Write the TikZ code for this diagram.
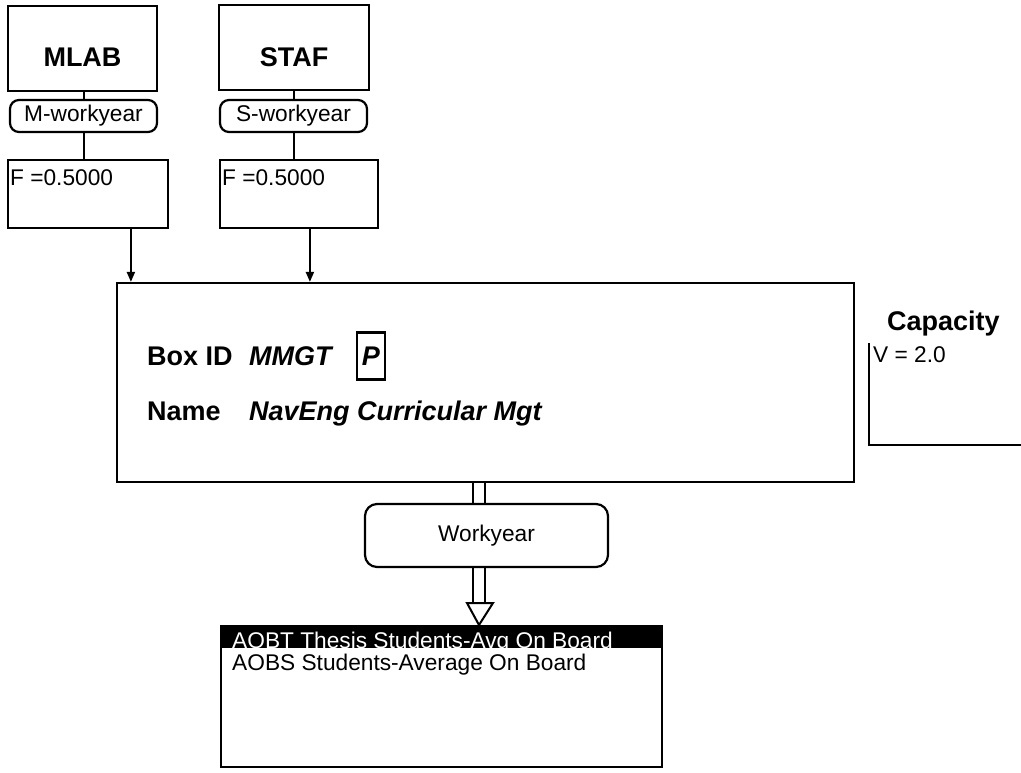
\documentclass[tikz,border=0pt]{standalone}
\usepackage{fontspec}
\setmainfont{Liberation Sans}
\usetikzlibrary{arrows.meta,calc}
\begin{document}
\begin{tikzpicture}[x=1pt,y=-1pt,
  box/.style={draw,line width=2.2pt,inner sep=0pt},
  pill/.style={draw,line width=2.2pt,rounded corners=9pt,inner sep=0pt},
  conn/.style={line width=2pt},
  arr/.style={line width=2pt,-{Triangle[width=8pt,length=10pt]}},
  bigtxt/.style={font=\fontsize{27}{31}\selectfont\bfseries,inner sep=0pt},
  bigit/.style={font=\fontsize{27}{31}\selectfont\bfseries\itshape,inner sep=0pt},
  txt/.style={font=\fontsize{22.7}{26}\selectfont,inner sep=0pt},
]
\useasboundingbox (0,0) rectangle (1021,772);

% ---- MLAB column
\node[box,minimum width=149pt,minimum height=85pt] (mlab) at (82.5,48.5) {};
\node[bigtxt,anchor=base] (mlabt) at (82.5,66) {MLAB};
\node[pill,minimum width=147pt,minimum height=32pt,txt] (mwy) at (83.5,116) {M-workyear};
\node[box,minimum width=160pt,minimum height=68pt] (mf) at (88,194) {};
\node[txt,anchor=base west] (mft) at (10,185) {F =0.5000};
\draw[conn] (mwy.north) -- (mwy.north |- mlab.south);
\draw[conn] (mwy.south) -- (mwy.south |- mf.north);

% ---- STAF column
\node[box,minimum width=150pt,minimum height=85pt] (staf) at (294,47.5) {};
\node[bigtxt,anchor=base] (staft) at (294,66) {STAF};
\node[pill,minimum width=147pt,minimum height=32pt,txt] (swy) at (293.5,116) {S-workyear};
\node[box,minimum width=158pt,minimum height=68pt] (sf) at (299,194) {};
\node[txt,anchor=base west] (sft) at (222,185) {F =0.5000};
\draw[conn] (swy.north) -- (swy.north |- staf.south);
\draw[conn] (swy.south) -- (swy.south |- sf.north);

% ---- main box
\node[box,minimum width=737pt,minimum height=199pt] (main) at (485.5,382.5) {};
\coordinate (ma) at ($(mf.south west)+(124,0)$);
\coordinate (sa) at ($(sf.south west)+(91,0)$);
\draw[arr] (ma) -- (ma |- main.north);
\draw[arr] (sa) -- (sa |- main.north);

\node[bigtxt,anchor=base west] (boxid) at (147,365) {Box ID};
\node[bigit,anchor=base west] (mmgt) at (249,365) {MMGT};
\node[box,minimum width=28pt,minimum height=47pt] (pbox) at (371,356) {};
\node[bigit,anchor=base] (pt) at (371,365) {P};
\node[bigtxt,anchor=base west] (namel) at (147,420) {Name};
\node[bigit,anchor=base west] (namev) at (249,420) {NavEng Curricular Mgt};

% ---- capacity
\node[bigtxt,anchor=base west] (cap) at (887,330) {Capacity};
\node[txt,anchor=base west] (capv) at (873,362) {V = 2.0};
\coordinate (c1) at (869,343);
\coordinate (c2) at (869,445);
\coordinate (c3) at (1021,445);
\draw[conn] (c1) -- (c2) -- (c3);

% ---- workyear output
\node[pill,minimum width=243pt,minimum height=63pt,rounded corners=12pt,txt] (wy) at (486.5,535.5) {Workyear};
\node[box,minimum width=441pt,minimum height=141pt] (list) at (441.5,696.5) {};
\coordinate (dl) at (473,0);
\coordinate (dr) at (485,0);
\draw[conn] (dl |- main.south) -- (dl |- wy.north);
\draw[conn] (dr |- main.south) -- (dr |- wy.north);
\coordinate (tl) at (467,603);
\coordinate (tr) at (493,603);
\coordinate (tip) at (479,625);
\draw[conn] (dl |- wy.south) -- (dl |- tl);
\draw[conn] (dr |- wy.south) -- (dr |- tl);
\draw[conn,line join=miter] (tl) -- (tr) -- (tip) -- cycle;

% ---- list
\fill (list.north west) rectangle ($(list.north east)+(0,23)$);
\begin{scope}
\clip (list.north west) rectangle ($(list.north east)+(0,23)$);
\node[txt,text=white,anchor=base west] (l1) at (232,648) {AOBT Thesis Students-Avg On Board};
\end{scope}
\node[txt,anchor=base west] (l2) at (232,670) {AOBS Students-Average On Board};
\end{tikzpicture}
\end{document}
